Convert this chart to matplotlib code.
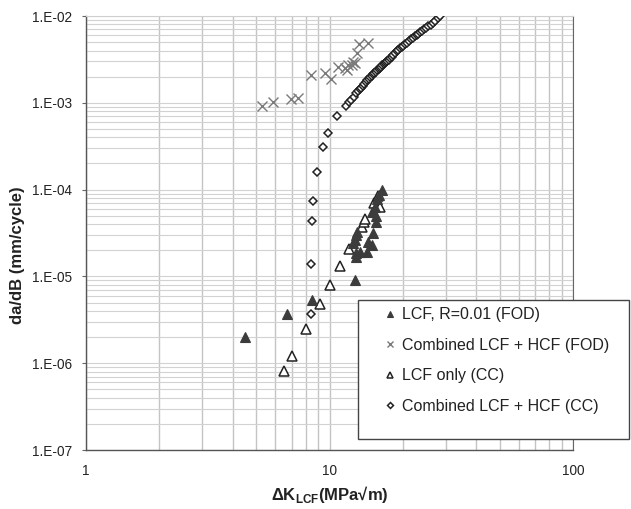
import numpy as np
import matplotlib
matplotlib.use("Agg")
import matplotlib.pyplot as plt
from matplotlib.ticker import FixedLocator, FuncFormatter, NullFormatter
from matplotlib.patches import Rectangle

plt.rcParams['font.family'] = ['Liberation Sans', 'DejaVu Sans']

# ---- data ----
lcf_fod_x = [4.50, 6.67, 8.45, 12.73, 12.85, 12.85, 13.35, 14.21, 14.91, 14.43, 12.53,
             12.73, 12.85, 13.01, 15.05, 15.52, 14.95, 15.52, 15.38, 15.67, 15.97, 16.43]
lcf_fod_y = [1.99e-6, 3.69e-6, 5.35e-6, 9.1e-6, 1.66e-5, 1.85e-5, 1.93e-5, 1.90e-5, 2.30e-5,
             2.51e-5, 2.41e-5, 2.63e-5, 3.0e-5, 3.27e-5, 3.14e-5, 4.27e-5, 5.52e-5, 4.97e-5,
             6.3e-5, 7.8e-5, 8.67e-5, 9.9e-5]

comb_fod_x = [5.27, 5.88, 6.93, 7.45, 8.37, 9.58, 10.14, 10.87, 11.57, 11.94, 12.45,
              12.73, 11.77, 12.34, 12.93, 13.22, 14.35]
comb_fod_y = [9.2e-4, 1.01e-3, 1.11e-3, 1.15e-3, 2.11e-3, 2.22e-3, 1.88e-3, 2.61e-3, 2.50e-3,
              2.73e-3, 2.97e-3, 2.85e-3, 2.39e-3, 2.73e-3, 3.72e-3, 4.72e-3, 4.92e-3]

lcf_cc_x = [6.52, 7.02, 7.98, 9.12, 10.02, 11.01, 11.99, 13.56, 13.82, 13.99, 15.24, 15.82, 16.12]
lcf_cc_y = [8.2e-7, 1.21e-6, 2.46e-6, 4.81e-6, 7.96e-6, 1.32e-5, 2.05e-5, 3.68e-5, 4.23e-5,
            4.58e-5, 7.01e-5, 8.44e-5, 6.3e-5]

comb_cc_x = [8.40, 8.40, 8.50, 8.58, 8.89, 9.43, 9.89, 10.77,
             11.7, 12.0, 12.3, 12.6, 12.9, 13.1, 13.3, 13.5, 13.7, 13.9, 14.1, 14.3, 14.5,
             14.7, 14.9, 15.1, 15.3, 15.5, 15.7, 15.9, 16.1, 16.3, 16.5, 16.7, 16.9, 17.1,
             17.3, 17.5, 17.8, 18.0, 18.3, 18.6, 18.9, 19.2, 19.5, 19.8, 20.1, 20.4, 20.8,
             21.2, 21.6, 22.0, 22.4, 22.8, 23.2, 23.6, 24.0, 24.5, 25.0, 25.5, 26.0, 26.6,
             27.2, 27.8, 28.4]
comb_cc_y = [3.72e-6, 1.40e-5, 4.38e-5, 7.45e-5, 1.61e-4, 3.12e-4, 4.52e-4, 7.05e-4,
             9.2e-4, 1.01e-3, 1.09e-3, 1.175e-3, 1.29e-3, 1.37e-3, 1.43e-3, 1.50e-3, 1.57e-3,
             1.66e-3, 1.74e-3, 1.81e-3, 1.89e-3, 1.97e-3, 2.06e-3, 2.14e-3, 2.22e-3, 2.29e-3,
             2.37e-3, 2.45e-3, 2.53e-3, 2.61e-3, 2.69e-3, 2.78e-3, 2.86e-3, 2.94e-3, 3.03e-3,
             3.13e-3, 3.28e-3, 3.40e-3, 3.57e-3, 3.74e-3, 3.91e-3, 4.09e-3, 4.26e-3, 4.41e-3,
             4.57e-3, 4.73e-3, 4.95e-3, 5.17e-3, 5.40e-3, 5.63e-3, 5.82e-3, 6.03e-3, 6.24e-3,
             6.46e-3, 6.71e-3, 7.00e-3, 7.29e-3, 7.60e-3, 7.92e-3, 8.30e-3, 8.85e-3, 9.40e-3,
             1.0e-2]

labels = ['LCF, R=0.01 (FOD)', 'Combined LCF + HCF (FOD)', 'LCF only (CC)', 'Combined LCF + HCF (CC)']
x_ticks = [1, 10, 100]
x_ticklabels = ['1', '10', '100']
y_ticks = [1e-7, 1e-6, 1e-5, 1e-4, 1e-3, 1e-2]
y_ticklabels = ['1.E-07', '1.E-06', '1.E-05', '1.E-04', '1.E-03', '1.E-02']

# ---- figure ----
W, H = 631, 509
fig = plt.figure(figsize=(W / 100, H / 100), dpi=100)
L, R, T, B = 86, 573, 16, 450
ax = fig.add_axes([L / W, 1 - B / H, (R - L) / W, (B - T) / H])
ax.set_xscale('log')
ax.set_yscale('log')
ax.set_xlim(1, 100)
ax.set_ylim(1e-7, 1e-2)

ax.xaxis.set_major_locator(FixedLocator(x_ticks))
ax.xaxis.set_major_formatter(FuncFormatter(lambda v, p: x_ticklabels[x_ticks.index(v)] if v in x_ticks else ''))
ax.yaxis.set_major_locator(FixedLocator(y_ticks))
ax.yaxis.set_major_formatter(FuncFormatter(
    lambda v, p: y_ticklabels[int(np.argmin([abs(np.log10(v) - np.log10(t)) for t in y_ticks]))]))
xminor = [m * d for d in [1, 10] for m in range(2, 10)]
yminor = [m * d for d in [1e-7, 1e-6, 1e-5, 1e-4, 1e-3] for m in range(2, 10)]
ax.xaxis.set_minor_locator(FixedLocator(xminor))
ax.yaxis.set_minor_locator(FixedLocator(yminor))
ax.xaxis.set_minor_formatter(NullFormatter())
ax.yaxis.set_minor_formatter(NullFormatter())

ax.tick_params(axis='both', which='major', labelsize=9.8, colors='#222222')
ax.tick_params(axis='x', which='both', length=0, pad=10)
ax.tick_params(axis='y', which='major', length=3, color='#666666', pad=7)
ax.tick_params(axis='y', which='minor', length=0)

ax.grid(True, which='both', axis='y', color='#d2d2d2', linewidth=0.8)
ax.grid(True, which='both', axis='x', color='#c4c4c4', linewidth=1.0)
ax.set_axisbelow(True)
dark_x = {2, 3, 4, 5, 20, 30, 70, 80, 90}
for tick in ax.xaxis.get_minor_ticks() + ax.xaxis.get_major_ticks():
    loc = tick.get_loc()
    if loc is not None and round(loc) in dark_x:
        tick.gridline.set_color('#4e4e4e')
        tick.gridline.set_linewidth(1.1)
    else:
        tick.gridline.set_color('#c4c4c4')

for s in ['left', 'bottom']:
    ax.spines[s].set_color('#555555')
    ax.spines[s].set_linewidth(1.0)
ax.spines['top'].set_color('#cfcfcf')
ax.spines['right'].set_color('#666666')

# ---- data series ----
ax.plot(lcf_fod_x, lcf_fod_y, linestyle='none', marker='^', ms=6.8, mfc='#3c3c3c',
        mec='#3c3c3c', mew=0.8, label=labels[0], zorder=4)
ax.plot(comb_fod_x, comb_fod_y, linestyle='none', marker='x', ms=7, mec='#7a7a7a',
        mew=1.0, label=labels[1], zorder=3)
ax.plot(lcf_cc_x, lcf_cc_y, linestyle='none', marker='^', ms=6.8, mfc='white',
        mec='#222222', mew=1.1, label=labels[2], zorder=3)
ax.plot(comb_cc_x, comb_cc_y, linestyle='none', marker='D', ms=4.3, mfc='white',
        mec='#222222', mew=1.1, label=labels[3], zorder=3)

# ---- legend ----
bx0, by0, bx1, by1 = 358, 300, 629, 439
rect = Rectangle((bx0 / W, 1 - by1 / H), (bx1 - bx0) / W, (by1 - by0) / H,
                 transform=fig.transFigure, facecolor='white', edgecolor='#444444',
                 linewidth=1.0, zorder=10)
fig.patches.append(rect)
leg = fig.legend(loc='upper left', bbox_to_anchor=(383.6 / W, 1 - 307.5 / H),
                 bbox_transform=fig.transFigure, frameon=False, fontsize=11.5,
                 handlelength=0.8, handletextpad=0.35, labelspacing=0.96,
                 borderpad=0, borderaxespad=0, markerscale=0.7, numpoints=1)
leg.set_zorder(11)
for t in leg.get_texts():
    t.set_color('#222222')

# ---- labels ----
ax.set_xlabel('ΔK$_{\\mathregular{LCF}}$(MPa√m)', fontsize=12, fontweight='bold', color='#222222')
ax.xaxis.set_label_coords(0.5, -0.078)
ax.set_ylabel('da/dB (mm/cycle)', fontsize=12, fontweight='bold', color='#222222')
ax.yaxis.set_label_coords(-0.125, 0.45)

fig.savefig('out.png', dpi=100)
